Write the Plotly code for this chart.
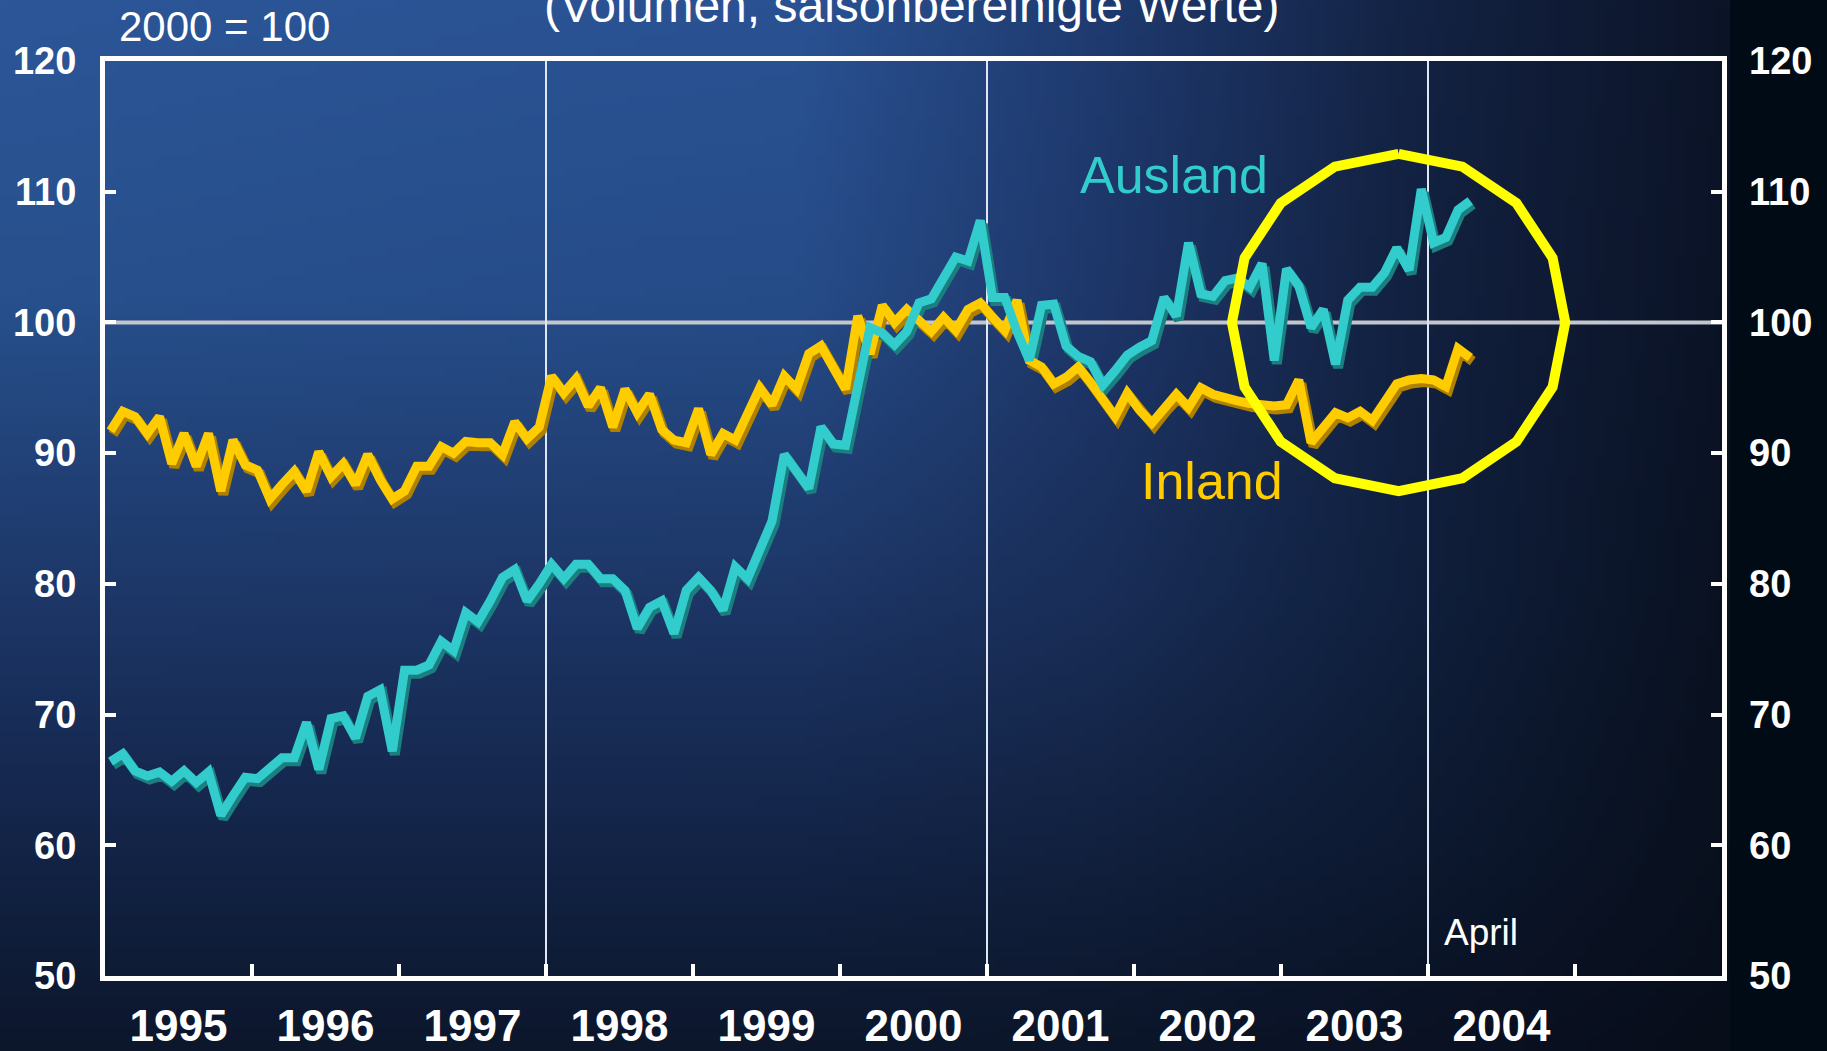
import base64
import struct
import zlib

import numpy as np
import plotly.graph_objects as go

# ---------------- data ----------------
first_year = 1995
ausland = [
    66.4, 67.0, 65.7, 65.3, 65.6, 64.9, 65.7, 64.8, 65.6, 62.3, 63.8, 65.2,
    65.1, 65.8, 66.7, 66.7, 69.4, 65.8, 69.7, 69.9, 68.2, 71.4, 71.9, 67.2,
    73.4, 73.4, 73.8, 75.6, 74.9, 77.8, 77.1, 78.7, 80.5, 81.1, 78.7, 80.0,
    81.5, 80.4, 81.5, 81.5, 80.4, 80.4, 79.5, 76.6, 78.2, 78.7, 76.2, 79.5,
    80.5, 79.5, 78.0, 81.3, 80.4, 82.6, 84.8, 89.9, 88.7, 87.3, 92.0, 90.7,
    90.6, 95.0, 99.6, 99.2, 98.3, 99.3, 101.5, 101.8, 103.5, 105.0, 104.7, 107.8,
    101.9, 101.9, 99.3, 97.1, 101.3, 101.4, 98.2, 97.4, 97.0, 95.2, 96.3, 97.5,
    98.1, 98.6, 101.9, 100.5, 106.1, 102.2, 102.0, 103.2, 103.4, 102.7, 104.5, 97.1,
    104.1, 102.8, 99.6, 101.0, 96.8, 101.7, 102.7, 102.7, 103.8, 105.7, 104.0, 110.2,
    106.1, 106.5, 108.6, 109.3,
]
inland = [
    91.7, 93.2, 92.8, 91.5, 92.8, 89.2, 91.5, 89.0, 91.5, 87.1, 91.0, 89.1,
    88.7, 86.5, 87.6, 88.6, 87.1, 90.1, 88.2, 89.2, 87.6, 89.9, 88.0, 86.5,
    87.1, 89.0, 89.0, 90.5, 90.0, 90.9, 90.8, 90.8, 89.9, 92.4, 91.1, 92.0,
    95.9, 94.6, 95.7, 93.6, 95.0, 92.0, 94.9, 93.1, 94.5, 91.8, 91.0, 90.8,
    93.4, 89.9, 91.5, 91.0, 93.0, 95.0, 93.7, 95.9, 94.9, 97.6, 98.2, 96.6,
    94.9, 100.5, 97.6, 101.3, 100.0, 101.0, 100.1, 99.3, 100.4, 99.4, 101.0, 101.5,
    100.4, 99.4, 101.7, 97.1, 96.6, 95.3, 95.8, 96.6, 95.4, 94.1, 92.8, 94.6,
    93.3, 92.3, 93.5, 94.5, 93.5, 95.0, 94.5, 94.2, 94.0, 93.8, 93.7, 93.6,
    93.7, 95.6, 90.8, 92.0, 93.1, 92.7, 93.2, 92.5, 94.0, 95.3, 95.6, 95.7,
    95.6, 95.1, 98.0, 97.3,
]
year_labels = ["1995", "1996", "1997", "1998", "1999", "2000", "2001", "2002", "2003", "2004"]
y_ticks = [50, 60, 70, 80, 90, 100, 110, 120]
separator_years = [1998, 2001, 2004]
reference_level = 100
highlight_center = (2003.8, 100.0)
highlight_radius = (1.134, 12.9)

# ---------------- geometry / style ----------------
W, H = 1827, 1051
PL, PR, PT, PB = 105, 1722, 61, 976
x_range = [1995, 2006]
y_range = [50, 120]
xdom = [PL / W, PR / W]
ydom = [1 - PB / H, 1 - PT / H]
px_per_year = (PR - PL) / (x_range[1] - x_range[0])
px_per_unit = (PB - PT) / (y_range[1] - y_range[0])
sh_dx, sh_dy = 2.5 / px_per_year, 3.5 / px_per_unit

FONT = "Arial, Liberation Sans, sans-serif"
CYAN, CYAN_SH = "#33cccc", "#1b7f80"
YEL, YEL_SH = "#ffcc00", "#b08000"
LW = 10

months = np.arange(len(ausland))
x_vals = first_year + (months + 0.45) / 12.0


# ---------------- background gradient (png) ----------------
def gradient_png(w, h):
    ax = np.array([0, 800, 1100, 1400, 1730]) / 1730.0
    ay = np.array([0, 300, 600, 850, 1051]) / 1051.0
    grid = [
        ["#2c5698", "#2a5293", "#1f3b70", "#142446", "#0c1428"],
        ["#27508c", "#264c88", "#1e376a", "#132242", "#0b1326"],
        ["#1d3768", "#1d3666", "#192e58", "#10203e", "#0a1222"],
        ["#132447", "#132447", "#12213f", "#0d1a32", "#09101e"],
        ["#0c172c", "#0c172c", "#0c162a", "#0a1224", "#080d1a"],
    ]
    rgb = np.array([[[int(c[i:i + 2], 16) for i in (1, 3, 5)] for c in row] for row in grid], float)
    xs = np.linspace(0, 1, w)
    ys = np.linspace(0, 1, h)
    img = np.zeros((h, w, 3))
    for ch in range(3):
        rows = np.array([np.interp(xs, ax, rgb[r, :, ch]) for r in range(len(ay))])
        for j in range(w):
            img[:, j, ch] = np.interp(ys, ay, rows[:, j])
    img = np.clip(img, 0, 255).astype(np.uint8)
    raw = b"".join(b"\x00" + img[r].tobytes() for r in range(h))

    def chunk(tag, data):
        return struct.pack(">I", len(data)) + tag + data + struct.pack(">I", zlib.crc32(tag + data) & 0xFFFFFFFF)

    png = (b"\x89PNG\r\n\x1a\n" + chunk(b"IHDR", struct.pack(">IIBBBBB", w, h, 8, 2, 0, 0, 0))
           + chunk(b"IDAT", zlib.compress(raw, 9)) + chunk(b"IEND", b""))
    return "data:image/png;base64," + base64.b64encode(png).decode()


bg_src = gradient_png(173, 105)

fig = go.Figure()

# shadows (base subplot, shifted axes)
for vals, col in ((inland, YEL_SH), (ausland, CYAN_SH)):
    fig.add_trace(go.Scatter(x=x_vals, y=vals, mode="lines", xaxis="x", yaxis="y",
                             line=dict(color=col, width=LW), hoverinfo="skip", showlegend=False))

# main lines
fig.add_trace(go.Scatter(x=x_vals, y=inland, mode="lines", xaxis="x2", yaxis="y2", name="Inland",
                         line=dict(color=YEL, width=LW - 1), showlegend=False))
fig.add_trace(go.Scatter(x=x_vals, y=ausland, mode="lines", xaxis="x2", yaxis="y2", name="Ausland",
                         line=dict(color=CYAN, width=LW - 1), showlegend=False))

# highlight ring (16-gon), on the right-hand value axis (same scale)
ang = np.deg2rad(np.arange(0, 361, 22.5))
fig.add_trace(go.Scatter(x=highlight_center[0] + highlight_radius[0] * np.sin(ang),
                         y=highlight_center[1] + highlight_radius[1] * np.cos(ang),
                         mode="lines", xaxis="x2", yaxis="y3", line=dict(color="#ffff00", width=10),
                         hoverinfo="skip", showlegend=False))

shapes = [dict(type="line", xref="x2 domain", yref="y2", x0=0, x1=1, y0=reference_level, y1=reference_level,
               line=dict(color="#c4c6cc", width=4), layer="below")]
for yr in separator_years:
    shapes.append(dict(type="line", xref="x2", yref="y2 domain", x0=yr, x1=yr, y0=0, y1=1,
                       line=dict(color="#dfe7f5", width=2), layer="below"))

annotations = [
    dict(text="2000 = 100", x=117 / W, y=1 - 27 / H, xref="paper", yref="paper", xanchor="left",
         yanchor="middle", showarrow=False, font=dict(family=FONT, size=42, color="white")),
    dict(text="(Volumen, saisonbereinigte Werte)", x=912 / W, y=1 - 34 / H, xref="paper", yref="paper",
         xanchor="center", yanchor="bottom", showarrow=False, font=dict(family=FONT, size=48, color="white")),
    dict(text="Ausland", x=1174 / W, y=1 - 144 / H, xref="paper", yref="paper", showarrow=False,
         font=dict(family=FONT, size=52, color=CYAN)),
    dict(text="Inland", x=1212 / W, y=1 - 481 / H, xref="paper", yref="paper", showarrow=False,
         font=dict(family=FONT, size=52, color=YEL)),
    dict(text="April", x=1442 / W, y=1 - 955 / H, xref="paper", yref="paper", xanchor="left", showarrow=False,
         font=dict(family=FONT, size=37, color="white")),
]

tickfont_y = dict(family=FONT, size=38, color="white", weight="bold")
fig.update_layout(
    width=W, height=H, margin=dict(l=0, r=0, t=0, b=0, autoexpand=False),
    paper_bgcolor="#000b16", plot_bgcolor="rgba(0,0,0,0)",
    images=[dict(source=bg_src, xref="paper", yref="paper", x=0, y=1, sizex=1730 / W, sizey=1,
                 xanchor="left", yanchor="top", sizing="stretch", layer="below")],
    xaxis=dict(domain=xdom, range=[x_range[0] - sh_dx, x_range[1] - sh_dx], visible=False, anchor="y",
               automargin=False),
    yaxis=dict(domain=ydom, range=[y_range[0] + sh_dy, y_range[1] + sh_dy], visible=False, anchor="x",
               automargin=False),
    xaxis2=dict(overlaying="x", anchor="y2", range=x_range, showgrid=False, zeroline=False, automargin=False,
                showline=True, linecolor="white", linewidth=5, mirror=True,
                tickmode="array", tickvals=[int(l) + 0.5 for l in year_labels], ticktext=year_labels,
                ticks="", ticklabelstandoff=7,
                tickfont=dict(family=FONT, size=44, color="white", weight="bold"),
                minor=dict(tickmode="array", tickvals=[int(l) + 1 for l in year_labels], ticks="inside",
                           ticklen=12, tickwidth=4, tickcolor="white", showgrid=False)),
    yaxis2=dict(overlaying="y", anchor="x2", range=y_range, showgrid=False, zeroline=False, automargin=False,
                showline=True, linecolor="white", linewidth=5, mirror="allticks",
                tickmode="array", tickvals=y_ticks, ticks="inside", ticklen=11, tickwidth=4,
                tickcolor="white", ticklabelstandoff=16, tickfont=tickfont_y),
    yaxis3=dict(overlaying="y", anchor="x2", side="right", range=y_range, showgrid=False, zeroline=False,
                automargin=False, showline=False, tickmode="array", tickvals=y_ticks, ticks="",
                ticklabelstandoff=26, tickfont=tickfont_y),
    shapes=shapes, annotations=annotations, showlegend=False,
)

fig.write_html("out.html", config={"displayModeBar": False},
               post_script="document.body.style.margin='0';document.body.style.overflow='hidden';")
